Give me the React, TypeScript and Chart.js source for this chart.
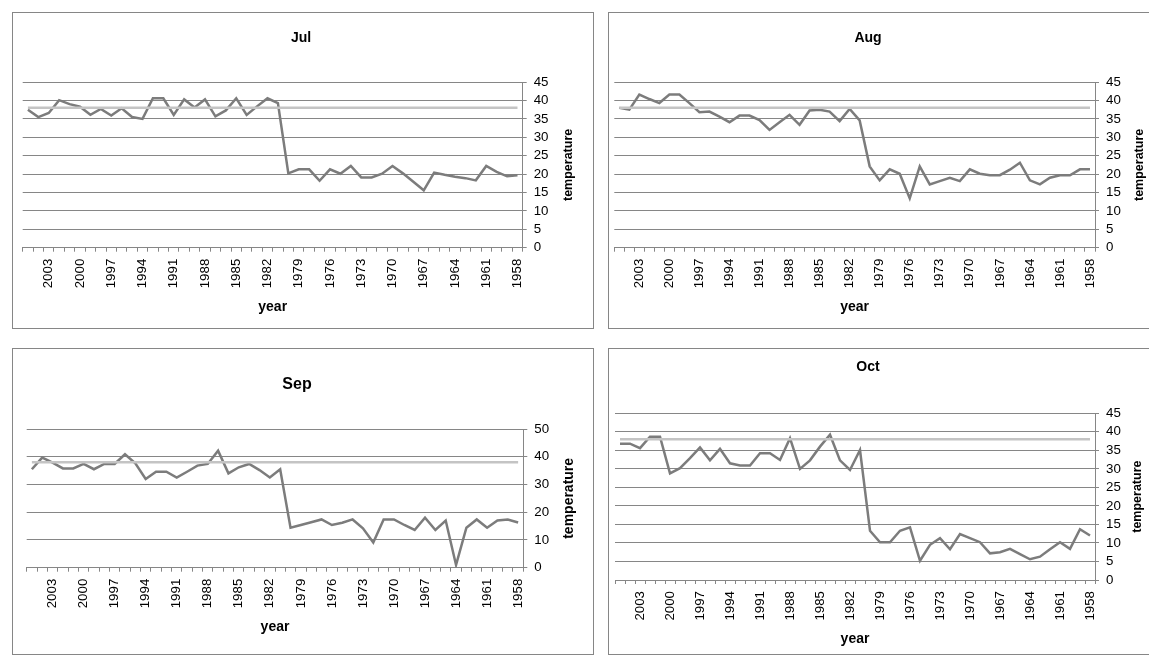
import React, { useEffect, useRef } from "react";
import { Chart, registerables } from "chart.js";

Chart.register(...registerables);

// Categories: years, newest first
const years: string[] = [
  "2005", "2004", "2003", "2002", "2001", "2000", "1999", "1998", "1997", "1996",
  "1995", "1994", "1993", "1992", "1991", "1990", "1989", "1988", "1987", "1986",
  "1985", "1984", "1983", "1982", "1981", "1980", "1979", "1978", "1977", "1976",
  "1975", "1974", "1973", "1972", "1971", "1970", "1969", "1968", "1967", "1966",
  "1965", "1964", "1963", "1962", "1961", "1960", "1959", "1958",
];

// Years that carry a visible tick label
const tickYears: string[] = [
  "2003", "2000", "1997", "1994", "1991", "1988", "1985", "1982",
  "1979", "1976", "1973", "1970", "1967", "1964", "1961", "1958",
];

const julTemps: number[] = [
  37.5, 35.5, 36.6, 40.1, 39.0, 38.3, 36.1, 37.7, 35.9, 37.9,
  35.5, 35.0, 40.6, 40.6, 36.1, 40.3, 38.1, 40.3, 35.7, 37.3,
  40.6, 36.1, 38.4, 40.6, 39.3, 20.2, 21.3, 21.3, 18.2, 21.3,
  20.1, 22.2, 19.1, 19.1, 20.1, 22.2, 20.2, 17.9, 15.6, 20.4,
  19.8, 19.3, 18.9, 18.3, 22.2, 20.6, 19.4, 19.7,
];

const augTemps: number[] = [
  38.0, 37.5, 41.6, 40.4, 39.3, 41.6, 41.6, 39.3, 36.8, 37.0,
  35.6, 34.1, 35.9, 35.9, 34.7, 32.0, 34.1, 36.1, 33.4, 37.3,
  37.5, 37.0, 34.4, 37.7, 34.6, 22.1, 18.3, 21.3, 20.1, 13.4,
  22.1, 17.2, 18.1, 19.0, 18.1, 21.3, 20.1, 19.7, 19.7, 21.2,
  23.1, 18.3, 17.2, 19.0, 19.7, 19.7, 21.3, 21.3,
];

const sepTemps: number[] = [
  35.5, 39.7, 37.9, 35.8, 35.8, 37.4, 35.5, 37.4, 37.4, 40.9,
  37.6, 32.0, 34.6, 34.6, 32.5, 34.6, 36.8, 37.4, 42.2, 34.0,
  36.2, 37.4, 35.2, 32.5, 35.5, 14.4, 15.4, 16.4, 17.4, 15.4,
  16.2, 17.4, 14.2, 9.1, 17.4, 17.4, 15.4, 13.6, 18.0, 13.6,
  17.0, 1.0, 14.4, 17.4, 14.4, 17.0, 17.4, 16.3,
];

const octTemps: number[] = [
  36.8, 36.8, 35.6, 38.7, 38.7, 28.8, 30.2, 32.9, 35.8, 32.3,
  35.4, 31.5, 30.9, 30.9, 34.2, 34.2, 32.4, 38.3, 30.0, 32.3,
  36.0, 39.2, 32.3, 29.7, 35.1, 13.3, 10.2, 10.2, 13.3, 14.2,
  5.2, 9.5, 11.3, 8.3, 12.4, 11.3, 10.2, 7.2, 7.5, 8.4,
  7.0, 5.6, 6.3, 8.3, 10.2, 8.4, 13.7, 12.0,
];

// Constant comparison level drawn across every panel
const referenceLevel = 38;

const FONT = '"Liberation Sans", Arial, Helvetica, sans-serif';
const GRID = "#868686";
const LINE = "#7c7c7c";
const REF_LINE = "#c4c4c4";
const Y_AXIS_W = 40;
const X_AXIS_H = 60;

type Box = { x: number; y: number; w: number; h: number };
type Plot = { l: number; t: number; r: number; b: number };

type PanelProps = {
  title: string;
  values: number[];
  yMax: number;
  yStep: number;
  box: Box;
  plot: Plot;
  titleX: number;
  titleY: number;
  titleSize: number;
  tempX: number;
  tempSize: number;
};

// Draws the panel title and both axis titles
const panelTextPlugin = {
  id: "panelText",
  afterDraw(chart: any, _args: any, opts: any) {
    const { ctx, chartArea: ca } = chart;
    ctx.save();
    ctx.fillStyle = "#000";
    ctx.textAlign = "center";
    ctx.textBaseline = "middle";
    ctx.font = `bold ${opts.titleSize}px ${FONT}`;
    ctx.fillText(opts.title, opts.titleX, opts.titleY);
    ctx.font = `bold 14px ${FONT}`;
    ctx.fillText("year", (ca.left + ca.right) / 2, ca.bottom + 59);
    ctx.translate(opts.tempX, (ca.top + ca.bottom) / 2);
    ctx.rotate(-Math.PI / 2);
    ctx.font = `bold ${opts.tempSize}px ${FONT}`;
    ctx.fillText("temperature", 0, 0);
    ctx.restore();
  },
};

function Panel(p: PanelProps) {
  const ref = useRef<HTMLCanvasElement | null>(null);

  useEffect(() => {
    if (!ref.current) return;
    const { box, plot } = p;
    const chart = new Chart(ref.current, {
      type: "line",
      data: {
        labels: years,
        datasets: [
          {
            label: "reference",
            data: years.map(() => referenceLevel),
            borderColor: REF_LINE,
            borderWidth: 2.5,
            pointRadius: 0,
            tension: 0,
          },
          {
            label: p.title,
            data: p.values,
            borderColor: LINE,
            borderWidth: 2.5,
            pointRadius: 0,
            tension: 0,
          },
        ],
      },
      options: {
        responsive: false,
        animation: false,
        devicePixelRatio: 1,
        layout: {
          padding: {
            left: plot.l - box.x,
            top: plot.t - box.y,
            right: box.x + box.w - plot.r - Y_AXIS_W,
            bottom: box.y + box.h - plot.b - X_AXIS_H,
          },
        },
        plugins: {
          legend: { display: false },
          tooltip: { enabled: false },
          title: { display: false },
          panelText: {
            title: p.title,
            titleX: p.titleX - box.x,
            titleY: p.titleY - box.y,
            titleSize: p.titleSize,
            tempX: p.tempX - box.x,
            tempSize: p.tempSize,
          },
        } as any,
        scales: {
          x: {
            type: "category",
            offset: true,
            grid: {
              display: true,
              drawOnChartArea: false,
              drawTicks: true,
              tickLength: 4,
              color: GRID,
              offset: true,
            },
            border: { display: true, color: GRID, width: 1 },
            ticks: {
              autoSkip: false,
              minRotation: 90,
              maxRotation: 90,
              padding: 7,
              color: "#000",
              font: { family: FONT, size: 13.3 },
              callback: function (this: any, v: any) {
                const lab = this.getLabelForValue(v);
                return tickYears.includes(lab) ? lab : "";
              },
            },
            afterFit: (s: any) => {
              s.height = X_AXIS_H;
            },
          },
          y: {
            position: "right",
            min: 0,
            max: p.yMax,
            grid: { color: GRID, tickLength: 4, drawTicks: true },
            border: { display: true, color: GRID, width: 1 },
            ticks: {
              stepSize: p.yStep,
              autoSkip: false,
              maxTicksLimit: 20,
              padding: 7,
              color: "#000",
              font: { family: FONT, size: 13.3 },
            },
            afterFit: (s: any) => {
              s.width = Y_AXIS_W;
            },
          },
        },
      },
      plugins: [panelTextPlugin],
    });
    return () => chart.destroy();
  }, []);

  const { box } = p;
  return (
    <div
      style={{
        position: "absolute",
        left: box.x,
        top: box.y,
        width: box.w,
        height: box.h,
        border: `1px solid ${GRID}`,
        boxSizing: "border-box",
        background: "#fff",
      }}
    >
      <canvas
        ref={ref}
        width={box.w}
        height={box.h}
        style={{ position: "absolute", left: -1, top: -1, display: "block" }}
      />
    </div>
  );
}

export default function App() {
  return (
    <div
      style={{
        position: "fixed",
        left: 0,
        top: 0,
        width: 1149,
        height: 657,
        overflow: "hidden",
        background: "#fff",
      }}
    >
      <Panel
        title="Jul"
        values={julTemps}
        yMax={45}
        yStep={5}
        box={{ x: 12, y: 12, w: 582, h: 317 }}
        plot={{ l: 22.7, t: 82.1, r: 522.7, b: 247.7 }}
        titleX={301}
        titleY={38}
        titleSize={14}
        tempX={569}
        tempSize={12.5}
      />
      <Panel
        title="Aug"
        values={augTemps}
        yMax={45}
        yStep={5}
        box={{ x: 608, y: 12, w: 600, h: 317 }}
        plot={{ l: 614.3, t: 82.1, r: 1095, b: 247.7 }}
        titleX={868}
        titleY={38}
        titleSize={14}
        tempX={1140}
        tempSize={12.5}
      />
      <Panel
        title="Sep"
        values={sepTemps}
        yMax={50}
        yStep={10}
        box={{ x: 12, y: 348, w: 582, h: 307 }}
        plot={{ l: 26.7, t: 429, r: 523.3, b: 567.7 }}
        titleX={297}
        titleY={385}
        titleSize={16}
        tempX={569}
        tempSize={14}
      />
      <Panel
        title="Oct"
        values={octTemps}
        yMax={45}
        yStep={5}
        box={{ x: 608, y: 348, w: 600, h: 307 }}
        plot={{ l: 615, t: 413.3, r: 1095, b: 580 }}
        titleX={868}
        titleY={367}
        titleSize={14}
        tempX={1138}
        tempSize={12.5}
      />
    </div>
  );
}
